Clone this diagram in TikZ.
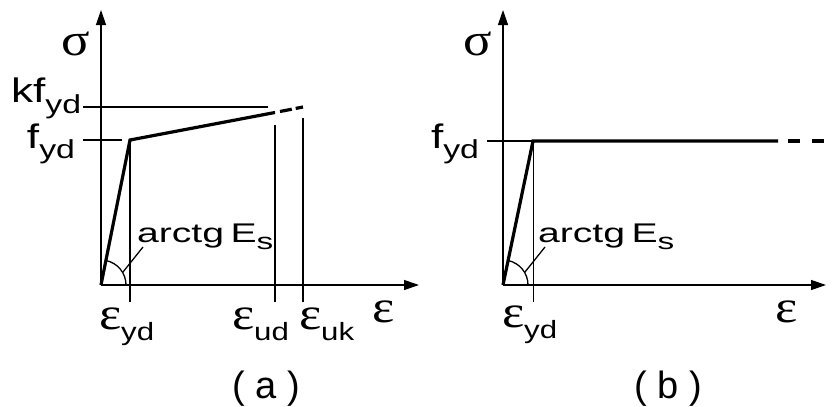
\documentclass[tikz,border=0pt]{standalone}
\usepackage{fontspec}
\usepackage{graphicx}
\setmainfont{Liberation Sans}
\newfontfamily\grfam{Liberation Serif}
\usetikzlibrary{arrows.meta}
\newcommand\hs[2][1.35]{\scalebox{#1}[1]{#2}}
\newcommand\latf{\fontsize{34}{34}\selectfont}
\newcommand\grf{\grfam\fontsize{46}{46}\selectfont}
\newcommand\gl[1]{\hs[1.15]{\grf #1}}
\newcommand\sbs[2]{\raisebox{-#1pt}{\fontsize{26}{26}\selectfont #2}}
\newcommand\esub[1]{\hs[1.25]{\raisebox{-11pt}{\fontsize{25}{25}\selectfont #1}}}
\begin{document}
\begin{tikzpicture}[x=1pt,y=-1pt,
  axis/.style={line width=1.3pt,-{Triangle[length=15pt,width=10pt]}},
  curve/.style={line width=3.2pt,line join=miter},
  guide/.style={line width=1.3pt},
  lbl/.style={inner sep=0pt,outer sep=0pt,anchor=base west},
]
\useasboundingbox (0,0) rectangle (833,407);
% ---------- panel (a)
\coordinate (Oa) at (101,285);
\coordinate (Ya) at (130,140);
\coordinate (Ua) at (275,112.5);
\coordinate (Ka) at (303,107);
\draw[guide] (83,107) -- (268,107);
\draw[guide] (83,140) -- (122,140);
\draw[line width=1.8pt] (Ya) -- (130,302);
\draw[line width=2.2pt] (275,125) -- (275,302);
\draw[line width=1.2pt] (303,118) -- (303,302);
\draw[axis] (Oa) -- (101,10);
\draw[axis] (Oa) -- (419,285);
\draw[curve] (Oa) -- (Ya) -- (Ua);
\draw[curve,dash pattern=on 12pt off 4pt] (280,111.5) -- (Ka);
\draw[guide] (126,285) arc[start angle=0,end angle=78.6,radius=25pt];
\draw[guide] (122.6,272.5) -- (143,247);
\node[lbl] (sa) at (61,55) {\gl{σ}};
\node[lbl] (kfa) at (11,102) {\hs[1.3]{\latf kf\sbs{11}{yd}}};
\node[lbl] (fa) at (27,148) {\hs[1.3]{\latf f\sbs{10}{yd}}};
\node[lbl] (eyda) at (99,329) {\gl{ε}\esub{yd}};
\node[lbl] (euda) at (232,329) {\gl{ε}\esub{ud}};
\node[lbl] (euka) at (299,329) {\gl{ε}\esub{uk}};
\node[lbl] (ea) at (372,322) {\gl{ε}};
\node[lbl] (arca) at (137,242) {\hs[1.45]{\fontsize{27}{27}\selectfont arctg\,E\raisebox{-7pt}{\fontsize{23}{23}\selectfont s}}};
\node[inner sep=0pt,anchor=base] (capa) at (266,398) {\fontsize{38}{38}\selectfont ( a )};
% ---------- panel (b)
\coordinate (Ob) at (503,285);
\coordinate (Yb) at (533,141);
\coordinate (Pb) at (778,141);
\draw[guide] (487,141) -- (Yb);
\draw[line width=1pt] (Yb) -- (533,302);
\draw[axis] (Ob) -- (503,10);
\draw[axis] (Ob) -- (826,285);
\draw[curve] (Ob) -- (Yb) -- (Pb);
\draw[curve,dash pattern=on 12pt off 12pt] (788,141) -- (833,141);
\draw[guide] (528,285) arc[start angle=0,end angle=78.2,radius=25pt];
\draw[guide] (524.6,272.5) -- (545,247);
\node[lbl] (sb) at (463,55) {\gl{σ}};
\node[lbl] (fb) at (431,148) {\hs[1.3]{\latf f\sbs{10}{yd}}};
\node[lbl] (eydb) at (502,327) {\gl{ε}\esub{yd}};
\node[lbl] (eb) at (775,322) {\gl{ε}};
\node[lbl] (arcb) at (538,242) {\hs[1.45]{\fontsize{27}{27}\selectfont arctg\,E\raisebox{-7pt}{\fontsize{23}{23}\selectfont s}}};
\node[inner sep=0pt,anchor=base] (capb) at (668,398) {\fontsize{38}{38}\selectfont ( b )};
\end{tikzpicture}
\end{document}
